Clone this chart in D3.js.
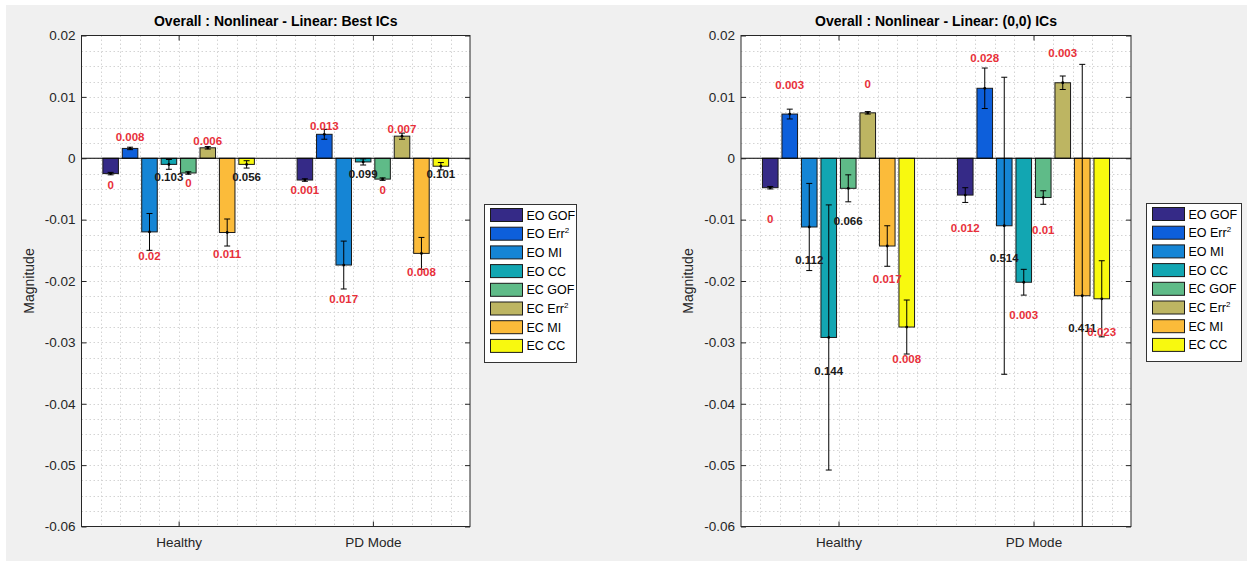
<!DOCTYPE html>
<html>
<head>
<meta charset="utf-8">
<script src="https://cdn.jsdelivr.net/npm/d3@7"></script>
<style>
  body { margin: 0; background: #fff; }
  svg text { font-family: "Liberation Sans", Arial, Helvetica, sans-serif; }
</style>
</head>
<body>
<svg id="chart" width="1253" height="561"></svg>
<script>
// ---- data ----
const categories = ["Healthy", "PD Mode"];
const seriesNames = ["EO GOF", "EO Err^2", "EO MI", "EO CC", "EC GOF", "EC Err^2", "EC MI", "EC CC"];
const seriesColors = ["#352a87", "#0d5fdb", "#1585d5", "#12a6b2", "#5fbb88", "#bdb562", "#fbbb3a", "#f8f90f"];
const yTicks = [0.02, 0.01, 0, -0.01, -0.02, -0.03, -0.04, -0.05, -0.06];

// left: Best ICs  (each row = one series, [Healthy, PD Mode])
const bestMean = [
  [-0.0025, -0.00355],
  [0.0016, 0.0039],
  [-0.0120, -0.0174],
  [-0.0010, -0.0006],
  [-0.0024, -0.0034],
  [0.0017, 0.0036],
  [-0.0121, -0.0155],
  [-0.0010, -0.0013]
];
const bestErr = [
  [0.0002, 0.0002],
  [0.0002, 0.0008],
  [0.0030, 0.0039],
  [0.0008, 0.0005],
  [0.0002, 0.0002],
  [0.0002, 0.0005],
  [0.0022, 0.0026],
  [0.0006, 0.0006]
];
const bestP = [
  ["0", "0.001"],
  ["0.008", "0.013"],
  ["0.02", "0.017"],
  ["0.103", "0.099"],
  ["0", "0"],
  ["0.006", "0.007"],
  ["0.011", "0.008"],
  ["0.056", "0.101"]
];
// where the p-value text sits (data units)
const bestTextAt = [
  [-0.0044, -0.0052],
  [0.0035, 0.0053],
  [-0.0159, -0.0230],
  [-0.0030, -0.0025],
  [-0.0041, -0.0051],
  [0.0028, 0.0047],
  [-0.0156, -0.0185],
  [-0.0031, -0.0026]
];

// right: (0,0) ICs
const zeroMean = [
  [-0.0048, -0.0060],
  [0.0072, 0.0114],
  [-0.0112, -0.0110],
  [-0.0292, -0.0202],
  [-0.0049, -0.0064],
  [0.0074, 0.0123],
  [-0.0143, -0.0224],
  [-0.0275, -0.0229]
];
const zeroErr = [
  [0.0002, 0.0012],
  [0.0008, 0.0033],
  [0.0071, 0.0242],
  [0.0216, 0.0021],
  [0.0022, 0.0011],
  [0.0002, 0.0011],
  [0.0033, 0.0377],
  [0.0044, 0.0062]
];
const zeroP = [
  ["0", "0.012"],
  ["0.003", "0.028"],
  ["0.112", "0.514"],
  ["0.144", "0.003"],
  ["0.066", "0.01"],
  ["0", "0.003"],
  ["0.017", "0.411"],
  ["0.008", "0.023"]
];
const zeroTextAt = [
  [-0.0099, -0.0113],
  [0.0119, 0.0163],
  [-0.0165, -0.0163],
  [-0.0346, -0.0256],
  [-0.0102, -0.0117],
  [0.0121, 0.0171],
  [-0.0196, -0.0276],
  [-0.0327, -0.0283]
];

const svg = d3.select("#chart");
const axisColor = "#262626";

// figure background
svg.append("rect").attr("x", 6).attr("y", 5).attr("width", 1241).attr("height", 556).attr("fill", "#f0f0f0");

function drawPanel(o) {
  const x = d3.scaleLinear().domain([0.5, 2.5]).range([o.left, o.right]);
  const y = d3.scaleLinear().domain([-0.06, 0.02]).range([o.bottom, o.top]);
  const g = svg.append("g");
  const w = o.right - o.left, h = o.bottom - o.top;

  g.append("rect").attr("x", o.left).attr("y", o.top).attr("width", w).attr("height", h).attr("fill", "#fff");

  const clipId = "clip-" + o.id;
  svg.append("clipPath").attr("id", clipId)
    .append("rect").attr("x", o.left).attr("y", o.top).attr("width", w).attr("height", h);

  // minor grid (dotted)
  const yMinor = d3.range(-23, 8).map(k => k * 0.0025);
  const xMinor = d3.range(6, 25).map(k => k / 10);
  g.append("g").selectAll("line").data(yMinor).join("line")
    .attr("x1", o.left).attr("x2", o.right)
    .attr("y1", d => Math.round(y(d)) + 0.5).attr("y2", d => Math.round(y(d)) + 0.5)
    .attr("stroke", "#d4d4d4").attr("stroke-dasharray", "1.5,2.5");
  g.append("g").selectAll("line").data(xMinor).join("line")
    .attr("y1", o.top).attr("y2", o.bottom)
    .attr("x1", d => Math.round(x(d)) + 0.5).attr("x2", d => Math.round(x(d)) + 0.5)
    .attr("stroke", "#d4d4d4").attr("stroke-dasharray", "1.5,2.5");

  // grouped bars
  const n = seriesNames.length;
  const slot = 0.8 / n;
  const barW = x(0.8 * slot) - x(0);
  const cells = [];
  o.mean.forEach((row, i) => row.forEach((v, j) => {
    cells.push({ i, j, v, e: o.err[i][j], p: o.p[i][j], at: o.textAt[i][j],
      cx: x(j + 1 - 0.4 + (i + 0.5) * slot) });
  }));

  g.append("g").selectAll("rect").data(cells).join("rect")
    .attr("x", d => d.cx - barW / 2)
    .attr("width", barW)
    .attr("y", d => y(Math.max(0, d.v)))
    .attr("height", d => Math.abs(y(d.v) - y(0)))
    .attr("fill", d => seriesColors[d.i])
    .attr("stroke", "#1a1a1a").attr("stroke-width", 1);

  // bar baseline
  g.append("line").attr("x1", o.left).attr("x2", o.right)
    .attr("y1", y(0)).attr("y2", y(0)).attr("stroke", "#000");

  // error bars
  const eb = g.append("g").attr("clip-path", `url(#${clipId})`)
    .selectAll("g").data(cells).join("g").attr("stroke", "#000");
  eb.append("line").attr("x1", d => d.cx).attr("x2", d => d.cx)
    .attr("y1", d => y(d.v - d.e)).attr("y2", d => y(d.v + d.e));
  eb.append("line").attr("x1", d => d.cx - 3).attr("x2", d => d.cx + 3)
    .attr("y1", d => y(d.v - d.e)).attr("y2", d => y(d.v - d.e));
  eb.append("line").attr("x1", d => d.cx - 3).attr("x2", d => d.cx + 3)
    .attr("y1", d => y(d.v + d.e)).attr("y2", d => y(d.v + d.e));
  eb.append("circle").attr("cx", d => d.cx).attr("cy", d => y(d.v)).attr("r", 1.4)
    .attr("fill", "#000").attr("stroke", "none");

  // axes
  const left = g.append("g").attr("transform", `translate(${o.left},0)`)
    .call(d3.axisLeft(y).tickValues(yTicks).tickSize(-5).tickPadding(6).tickFormat(d => String(d)));
  const right = g.append("g").attr("transform", `translate(${o.right},0)`)
    .call(d3.axisRight(y).tickValues(yTicks).tickSize(-5).tickFormat(""));
  const bottom = g.append("g").attr("transform", `translate(0,${o.bottom})`)
    .call(d3.axisBottom(x).tickValues([1, 2]).tickSize(-5).tickPadding(11).tickFormat(d => categories[d - 1]));
  const top = g.append("g").attr("transform", `translate(0,${o.top})`)
    .call(d3.axisTop(x).tickValues([1, 2]).tickSize(-5).tickFormat(""));
  [left, right, bottom, top].forEach(a => {
    a.select(".domain").remove();
    a.selectAll("line").attr("stroke", axisColor);
    a.selectAll("text").attr("fill", axisColor).style("font-size", "13.5px");
  });

  g.append("rect").attr("x", o.left).attr("y", o.top).attr("width", w).attr("height", h)
    .attr("fill", "none").attr("stroke", axisColor);

  // p-value labels
  g.append("g").selectAll("text").data(cells).join("text")
    .attr("x", d => d.cx).attr("y", d => y(d.at))
    .attr("text-anchor", "middle").attr("dominant-baseline", "central")
    .style("font-size", "11.5px").style("font-weight", "bold")
    .attr("fill", d => +d.p > 0.05 ? "#1a1a1a" : "#e8303a")
    .text(d => d.p);

  // title and y label
  g.append("text").attr("x", (o.left + o.right) / 2).attr("y", 26)
    .attr("text-anchor", "middle").style("font-size", "14px").style("font-weight", "bold")
    .attr("fill", "#000").text(o.title);
  g.append("text")
    .attr("transform", `translate(${o.ylabX},${(o.top + o.bottom) / 2}) rotate(-90)`)
    .attr("text-anchor", "middle").style("font-size", "14px").attr("fill", axisColor)
    .text("Magnitude");

  // legend
  const lg = svg.append("g").attr("transform", `translate(${o.legX},${o.legY})`);
  lg.append("rect").attr("width", o.legW).attr("height", 158)
    .attr("fill", "#fff").attr("stroke", "#333");
  const item = lg.selectAll("g").data(seriesNames).join("g")
    .attr("transform", (d, i) => `translate(6,${10.5 + i * 18.7})`);
  item.append("rect").attr("y", -6.5).attr("width", 32).attr("height", 13)
    .attr("fill", (d, i) => seriesColors[i]).attr("stroke", "#1a1a1a");
  const t = item.append("text").attr("x", 36).attr("y", 4.5)
    .style("font-size", "12.5px").attr("fill", "#000");
  t.append("tspan").text(d => d.split("^")[0]);
  t.filter(d => d.includes("^")).append("tspan")
    .attr("dy", -5).style("font-size", "8px").text(d => d.split("^")[1]);
}

drawPanel({ id: "best", left: 81.5, right: 470, top: 35.5, bottom: 526.5, ylabX: 34,
  title: "Overall : Nonlinear - Linear: Best ICs",
  mean: bestMean, err: bestErr, p: bestP, textAt: bestTextAt,
  legX: 484.5, legY: 204.5, legW: 92 });

drawPanel({ id: "zero", left: 741, right: 1131, top: 35.5, bottom: 526.5, ylabX: 693,
  title: "Overall : Nonlinear - Linear: (0,0) ICs",
  mean: zeroMean, err: zeroErr, p: zeroP, textAt: zeroTextAt,
  legX: 1146.5, legY: 203.5, legW: 95 });
</script>
</body>
</html>
